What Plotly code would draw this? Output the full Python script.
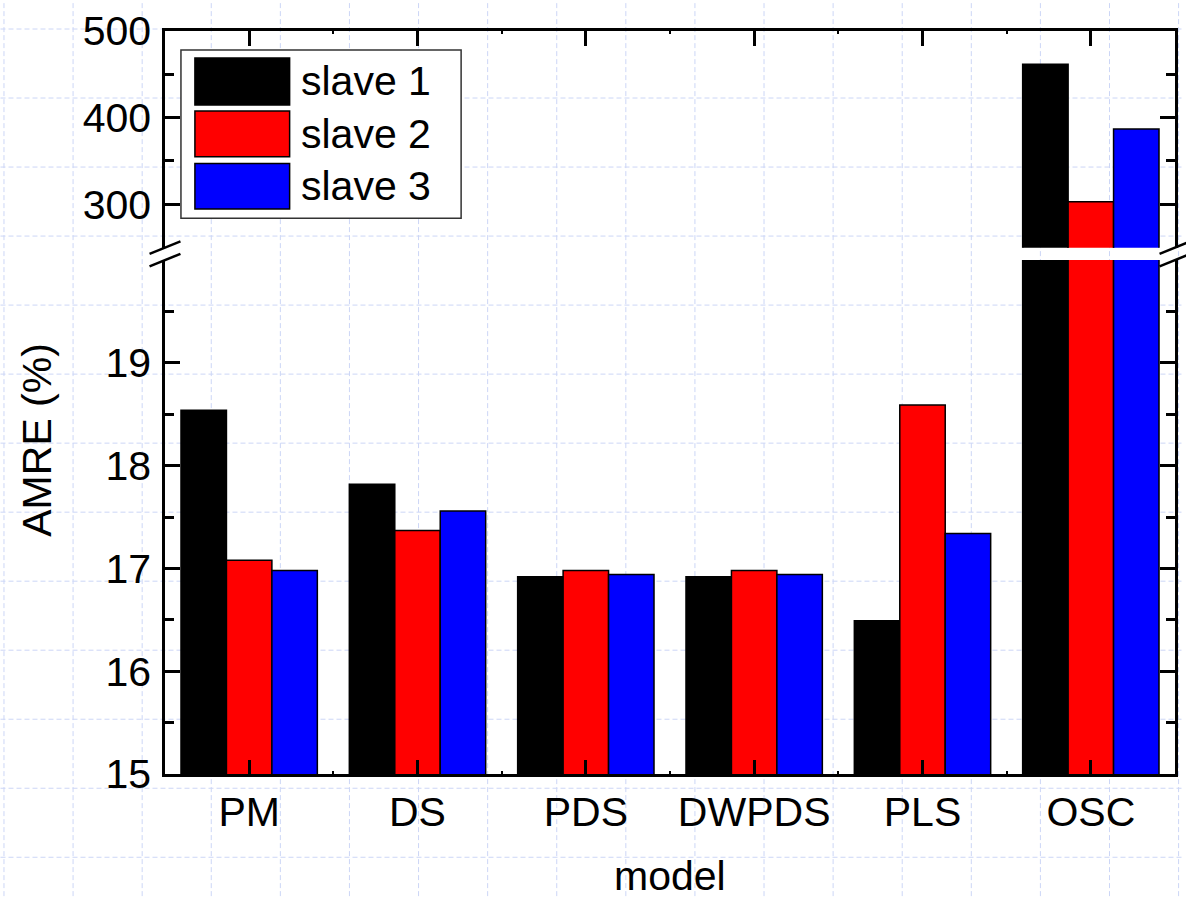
import plotly.graph_objects as go

# ---- data -------------------------------------------------------------
categories = ["PM", "DS", "PDS", "DWPDS", "PLS", "OSC"]
slave1 = [18.54, 17.82, 16.92, 16.92, 16.49, 461.5]
slave2 = [17.08, 17.37, 16.98, 16.98, 18.59, 303.0]
slave3 = [16.98, 17.56, 16.94, 16.94, 17.34, 387.0]
series_names = ["slave 1", "slave 2", "slave 3"]
series_colors = ["#000000", "#ff0000", "#0000ff"]

lower_ticks = [15, 16, 17, 18, 19]
lower_minor = [15.5, 16.5, 17.5, 18.5, 19.5]
upper_ticks = [300, 400, 500]
upper_minor = [350, 450]

# ---- page geometry (pixels) -------------------------------------------
W, H = 1186, 899
PL, PR, PT, PB = 165, 1178, 28, 774      # plot area edges
LOW_TOP, UP_BOT = 258, 245.5            # edges around the axis break
FONT = "Liberation Sans, Arial, sans-serif"
FS = 41


def px(x):
    return (x - PL) / (PR - PL)


def py(y):
    return (PB - y) / (PB - PT)


xs = list(range(len(categories)))
series = [slave1, slave2, slave3]

fig = go.Figure()
for vals, name, col in zip(series, series_names, series_colors):
    for xa, ya in (("x", "y"), ("x2", "y2")):
        fig.add_trace(go.Bar(
            x=xs, y=vals, name=name, xaxis=xa, yaxis=ya,
            marker=dict(color=col, line=dict(color="#000000", width=1.5)),
            showlegend=False, hoverinfo="x+y",
        ))

axis_font = dict(family=FONT, size=FS, color="#000")
common_y = dict(
    showline=True, linewidth=2.5, linecolor="#000", mirror="ticks",
    ticks="inside", ticklen=15, tickwidth=2.5, tickcolor="#000",
    showgrid=False, zeroline=False, tickfont=axis_font,
    ticklabelstandoff=3,
)
common_x = dict(
    range=[-0.5, len(categories) - 0.5], showline=True, linewidth=2.5,
    linecolor="#000", ticks="inside", ticklen=14, tickwidth=2.5,
    tickcolor="#000", showgrid=False, zeroline=False,
    tickmode="array", tickvals=xs,
    minor=dict(ticks="inside", ticklen=3, tickwidth=2,
               tickvals=[i + 0.5 for i in xs[:-1]], tickcolor="#000"),
)

fig.update_layout(
    width=W, height=H,
    margin=dict(l=PL, r=W - PR, t=PT, b=H - PB),
    paper_bgcolor="white", plot_bgcolor="rgba(0,0,0,0)",
    barmode="group", bargap=0.19, bargroupgap=0,
    showlegend=False,
    font=dict(family=FONT, size=FS, color="#000"),
    xaxis=dict(common_x, anchor="y", ticktext=categories, tickfont=axis_font,
               ticklabelstandoff=0),
    xaxis2=dict(common_x, anchor="y2", side="top", matches="x",
                showticklabels=False, ticklen=15),
    yaxis=dict(common_y, anchor="x", domain=[0, py(LOW_TOP)], range=[15, 20],
               tickmode="array", tickvals=lower_ticks,
               minor=dict(ticks="inside", ticklen=9, tickwidth=2.5,
                          tickmode="array", tickvals=lower_minor,
                          tickcolor="#000")),
    yaxis2=dict(common_y, anchor="x2", domain=[py(UP_BOT), 1],
                range=[250, 500], tickmode="array", tickvals=upper_ticks,
                minor=dict(ticks="inside", ticklen=9, tickwidth=2.5,
                           tickmode="array", tickvals=upper_minor,
                           tickcolor="#000")),
)

shapes = []
annotations = []

# page grid behind everything
grid_style = dict(color="rgb(204,214,246)", width=1, dash="5px,3px")
gx = 3.5
while gx < W:
    shapes.append(dict(type="line", xref="paper", yref="paper", layer="below",
                       x0=px(gx), x1=px(gx), y0=py(0), y1=py(H),
                       line=grid_style))
    gx += 69.3
gy = 26.0
while gy < H:
    shapes.append(dict(type="line", xref="paper", yref="paper", layer="below",
                       x0=px(0), x1=px(W), y0=py(gy), y1=py(gy),
                       line=grid_style))
    gy += 69.3

# axis break marks (double slashes) on both vertical axes
for ax_x in (PL, PR):
    for yb in (UP_BOT, LOW_TOP):
        shapes.append(dict(type="line", xref="paper", yref="paper",
                           x0=px(ax_x - 15.5), y0=py(yb + 6.3),
                           x1=px(ax_x + 15.5), y1=py(yb - 6.3),
                           line=dict(color="#000", width=2.5)))

# legend box
shapes.append(dict(type="rect", xref="paper", yref="paper",
                   x0=px(181), x1=px(462), y0=py(216), y1=py(47),
                   line=dict(color="#333", width=1.5), fillcolor="white"))
sw_rows = [(55, 102.3), (108.3, 154.3), (161, 206.7)]
for (y0, y1), name, col in zip(sw_rows, series_names, series_colors):
    shapes.append(dict(type="rect", xref="paper", yref="paper",
                       x0=px(195), x1=px(290), y0=py(y1), y1=py(y0),
                       line=dict(color="#000", width=1.5), fillcolor=col))
    annotations.append(dict(xref="paper", yref="paper", x=px(299),
                            y=py((y0 + y1) / 2), xanchor="left",
                            yanchor="middle", text=name, showarrow=False,
                            font=dict(family=FONT, size=FS, color="#000")))

# axis titles
annotations.append(dict(xref="paper", yref="paper", x=px(37), y=py(438),
                        text="AMRE (%)", textangle=-90, showarrow=False,
                        xanchor="center", yanchor="middle",
                        font=dict(family=FONT, size=FS, color="#000")))
annotations.append(dict(xref="paper", yref="paper", x=px((PL + PR) / 2),
                        y=py(876), text="model", showarrow=False,
                        xanchor="center", yanchor="middle",
                        font=dict(family=FONT, size=FS, color="#000")))

fig.update_layout(shapes=shapes, annotations=annotations)
fig.write_html("out.html")
